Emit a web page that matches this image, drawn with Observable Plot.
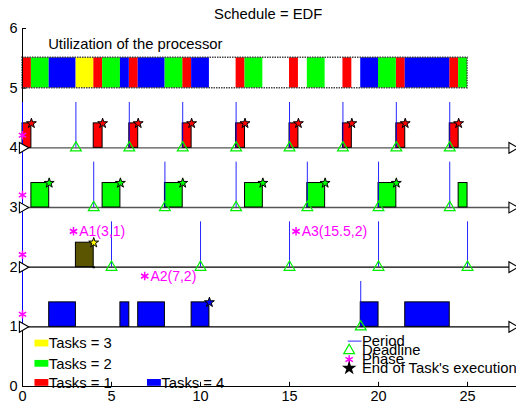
<!DOCTYPE html>
<html><head><meta charset="utf-8">
<script src="https://cdn.jsdelivr.net/npm/d3@7"></script>
<script src="https://cdn.jsdelivr.net/npm/@observablehq/plot@0.6"></script>
<style>body{margin:0;background:#fff}</style>
</head><body><div id="chart"></div>
<script>
const title = "Schedule = EDF";
const utilLabel = "Utilization of the processor";
const xTicks = [0, 5, 10, 15, 20, 25];
const yTicks = [0, 1, 2, 3, 4, 5, 6];

const taskNames = ["Tasks = 1", "Tasks = 2", "Tasks = 3", "Tasks = 4"];
const taskRows = [4, 3, 2, 1];
const taskColors = ["#ff0000", "#00ff00", "#ffff00", "#0000ff"];

const task1Start = [0, 4, 6, 9, 12, 15, 18, 21, 24];
const task1End   = [0.5, 4.5, 6.5, 9.5, 12.5, 15.5, 18.5, 21.5, 24.5];
const task2Start = [0.5, 4.5, 8, 12.5, 16, 20, 24.5];
const task2End   = [1.5, 5.5, 9, 13.5, 17, 21, 25];
const task3Start = [3];
const task3End   = [4];
const task4Start = [1.5, 5.5, 6.5, 9.5, 19, 21.5];
const task4End   = [3, 6, 8, 10.5, 20, 24];

const task1Periods = [0, 3, 6, 9, 12, 15, 18, 21, 24];
const task2Periods = [0, 4, 8, 12, 16, 20, 24];
const task3Periods = [5, 10, 15, 20, 25];
const task4Periods = [0, 19];

const task1Deadlines = [3, 6, 9, 12, 15, 18, 21, 24];
const task2Deadlines = [4, 8, 12, 16, 20, 24];
const task3Deadlines = [5, 10, 15, 20, 25];
const task4Deadlines = [19];

const task1Done = [0.5, 4.5, 6.5, 9.5, 12.5, 15.5, 18.5, 21.5, 24.5];
const task2Done = [1.5, 5.5, 9, 13.5, 17, 21];
const task3Done = [4];
const task4Done = [10.5];

const taskPhases = [0, 0, 0, 0];

const aperiodicLabels = ["A1(3,1)", "A2(7,2)", "A3(15.5,2)"];
const aperiodicArrival = [3, 7, 15.5];
const aperiodicLabelY = [2.6, 1.85, 2.6];

const legendLabels = ["Period", "Deadline", "Phase", "End of Task's execution"];

// ---- build tables ----
const starts = [task1Start, task2Start, task3Start, task4Start];
const ends = [task1End, task2End, task3End, task4End];
const periods = [task1Periods, task2Periods, task3Periods, task4Periods];
const deadlines = [task1Deadlines, task2Deadlines, task3Deadlines, task4Deadlines];
const dones = [task1Done, task2Done, task3Done, task4Done];
const barColors = ["#ff0000", "#00ff00", "#5b5400", "#0000ff"];

const segs = [], perRows = [], dlRows = [], doneRows = [];
for (let t = 0; t < 4; t++) {
  starts[t].forEach((s, i) => segs.push({t, row: taskRows[t], x1: s, x2: ends[t][i]}));
  periods[t].forEach(p => perRows.push({t, row: taskRows[t], x: p}));
  deadlines[t].forEach(d => dlRows.push({t, row: taskRows[t], x: d}));
  dones[t].forEach(d => doneRows.push({t, row: taskRows[t], x: d}));
}
const BAR_H = 0.41, PER_H = 0.76, XEND = 27.5;
const phaseRows = taskRows.map((r, i) => ({row: r, x: taskPhases[i]}));
const aper = aperiodicLabels.map((l, i) => ({label: l, x: aperiodicArrival[i], y: aperiodicLabelY[i]}));

const font = "'Liberation Sans', Arial, Helvetica, sans-serif";
const FS = 14.8;

const legendA = [
  {name: taskNames[2], c: taskColors[2], x: 0.7, y: 0.72},
  {name: taskNames[1], c: taskColors[1], x: 0.7, y: 0.38},
  {name: taskNames[0], c: taskColors[0], x: 0.7, y: 0.06},
  {name: taskNames[3], c: taskColors[3], x: 7.02, y: 0.06}
];
const legB = legendLabels.map((l, i) => ({label: l, y: [0.76, 0.603, 0.452, 0.307][i]}));
const LBX = 18.35;

const chart = Plot.plot({
  width: 516, height: 405,
  marginLeft: 22, marginRight: 0, marginTop: 28, marginBottom: 19,
  x: {domain: [0, 27.75]},
  y: {domain: [0, 6]},
  style: {fontFamily: font, fontSize: "14px", background: "#fff", color: "#000"},
  marks: [
    Plot.text([title], {x: 13.8, y: 6.24, text: d => d, fontSize: FS, fill: "#000"}),
    Plot.text([utilLabel], {x: 1.44, y: 5.74, text: d => d, textAnchor: "start", fontSize: FS, fill: "#000"}),
    // utilization bar
    Plot.rect([0], {x1: 0, x2: 25, y1: 5, y2: 5.51, fill: "#fff"}),
    Plot.rect(segs, {x1: "x1", x2: "x2", y1: 5, y2: 5.51, fill: d => taskColors[d.t]}),
    Plot.rect([0], {x1: 0, x2: 25, y1: 5, y2: 5.51, fill: "none", stroke: "#444", strokeWidth: 1.5, strokeDasharray: "1.5,1"}),
    // axes lines
    Plot.ruleX([0], {y1: 0, y2: 6, stroke: "#000"}),
    Plot.ruleY([0], {x1: 0, x2: 27.75, stroke: "#000"}),
    Plot.ruleY(yTicks, {x1: 0, x2: 0.23, stroke: "#000"}),
    Plot.ruleX(xTicks, {y1: 0, y2: 0.07, stroke: "#000"}),
    Plot.axisY({ticks: yTicks, tickSize: 0, tickPadding: 5, fontSize: 14.5, tickFormat: d3.format("d")}),
    Plot.axisX({ticks: xTicks, tickSize: 0, tickPadding: 4, fontSize: 14.5, tickFormat: d3.format("d")}),
    // row baselines
    Plot.ruleY(taskRows, {x1: 0, x2: XEND, stroke: d => d >= 3 ? "#555" : "#000", strokeWidth: 1.3}),
    // bars
    Plot.rect(segs, {x1: "x1", x2: "x2", y1: "row", y2: d => d.row + BAR_H, fill: d => barColors[d.t], stroke: "#000", strokeWidth: 1}),
    Plot.dot([0], {x: 4, y: 2, r: 1.2, fill: "#000"}),
    // period lines
    Plot.ruleX([0], {y1: 1, y2: 4 + PER_H, stroke: "#0000ff"}),
    Plot.ruleX(perRows, {x: "x", y1: "row", y2: d => d.row + PER_H, stroke: "#0000ff", strokeOpacity: 0.85}),
    // deadlines
    Plot.dot(dlRows, {x: "x", y: "row", symbol: "triangle", r: 4, stroke: "#00ee00", fill: "none", strokeWidth: 1.2}),
    // phases
    Plot.dot(phaseRows, {x: "x", y: d => d.row + 0.21, symbol: "asterisk", r: 4, stroke: "#ff00ff", strokeWidth: 1.5}),
    // arrows
    Plot.dot(taskRows, {x: 0, y: d => d, symbol: "triangle", rotate: 90, r: 4, stroke: "#000", fill: "#fff", strokeWidth: 1.1}),
    Plot.dot(taskRows, {x: XEND, y: d => d, symbol: "triangle", rotate: 90, r: 4, stroke: "#000", fill: "#fff", strokeWidth: 1.1}),
    // end stars
    Plot.dot(doneRows, {x: "x", y: d => d.row + BAR_H, symbol: "star", r: 3.1, fill: d => taskColors[d.t], stroke: "#000", strokeWidth: 1}),
    // aperiodic labels
    Plot.dot(aper, {x: "x", y: "y", dx: -2.4, symbol: "asterisk", r: 4, stroke: "#ff00ff", strokeWidth: 1.5}),
    Plot.text(aper, {x: "x", y: "y", dx: 3.3, text: "label", textAnchor: "start", fill: "#ff00ff", fontSize: 14}),
    // legend A
    Plot.rect(legendA, {x1: "x", x2: d => d.x + 0.78, y1: d => d.y - 0.057, y2: d => d.y + 0.057, fill: "c"}),
    Plot.text(legendA, {x: d => d.x + 0.78, y: "y", text: "name", textAnchor: "start", fontSize: FS, fill: "#000"}),
    // legend B
    Plot.ruleY([0.76], {x1: 18.3, x2: 19.07, stroke: "#7070ff", strokeWidth: 1.5}),
    Plot.dot([0], {x: LBX, y: 0.603, symbol: "triangle", r: 4, stroke: "#00ee00", fill: "none", strokeWidth: 1.2}),
    Plot.dot([0], {x: LBX, y: 0.452, symbol: "asterisk", r: 4, stroke: "#ff00ff", strokeWidth: 1.5}),
    Plot.dot([0], {x: LBX, y: 0.307, symbol: "star", r: 3.1, fill: "#000", stroke: "#000"}),
    Plot.text(legB, {x: 19.07, y: "y", text: "label", textAnchor: "start", fontSize: FS, fill: "#000"})
  ]
});
document.getElementById("chart").appendChild(chart);
</script>
</body></html>
